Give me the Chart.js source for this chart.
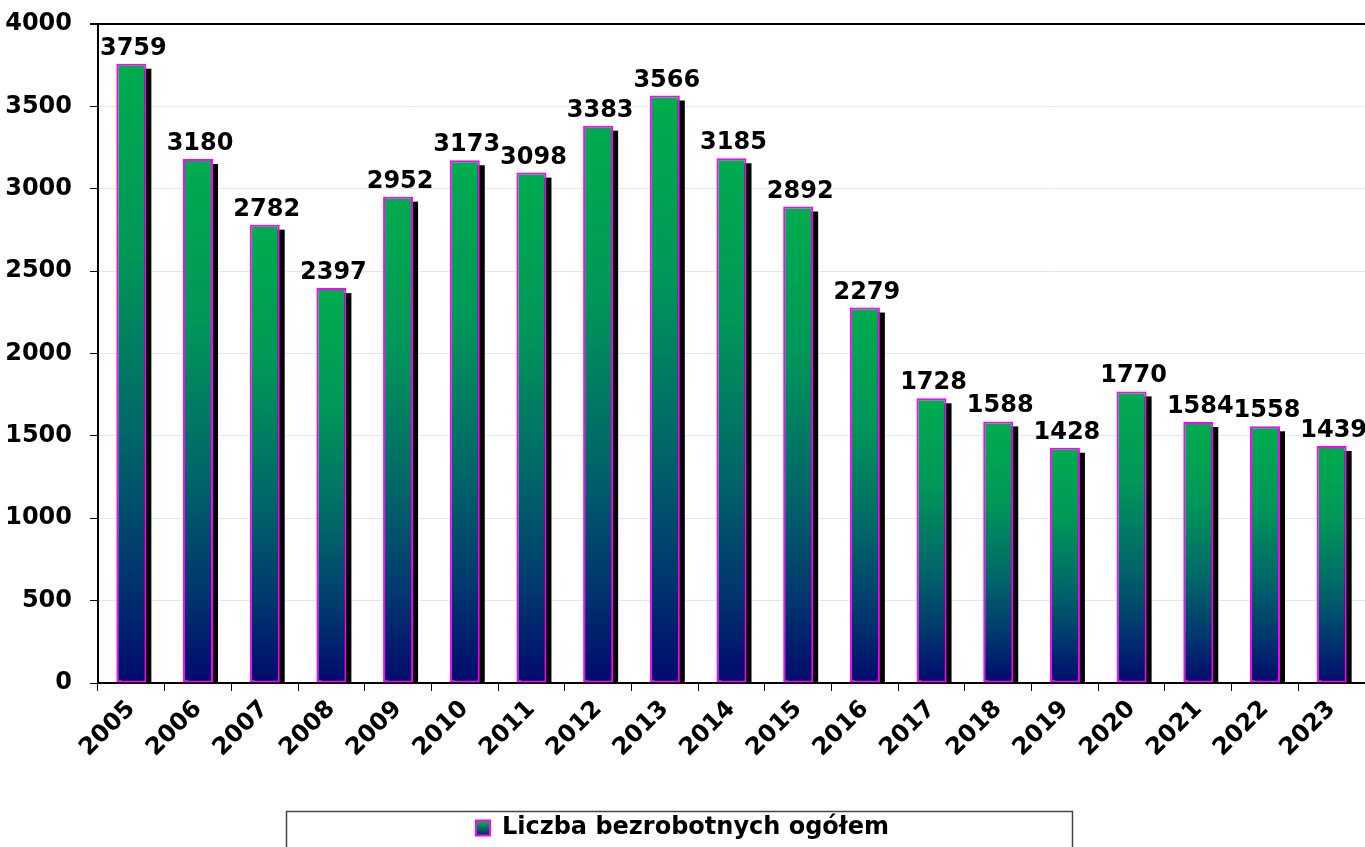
<!DOCTYPE html>
<html>
<head>
<meta charset="utf-8">
<script src="https://cdn.jsdelivr.net/npm/chart.js@4/dist/chart.umd.min.js"></script>
<style>
html,body{margin:0;padding:0;background:#fff;}
#wrap{width:1365px;height:847px;position:relative;}
</style>
</head>
<body>
<div id="wrap"><canvas id="c" width="1365" height="847"></canvas></div>
<script>
const years = ['2005','2006','2007','2008','2009','2010','2011','2012','2013','2014','2015','2016','2017','2018','2019','2020','2021','2022','2023'];
const unemployed = [3759,3180,2782,2397,2952,3173,3098,3383,3566,3185,2892,2279,1728,1588,1428,1770,1584,1558,1439];
const seriesName = 'Liczba bezrobotnych ogółem';
const yTicks = [0,500,1000,1500,2000,2500,3000,3500,4000];

const FONT = "'DejaVu Sans', Arial, sans-serif";

function barGradient(ctx, top, bottom) {
  const g = ctx.createLinearGradient(0, top, 0, bottom);
  g.addColorStop(0, '#00AC4E');
  g.addColorStop(0.3, '#009858');
  g.addColorStop(0.6, '#006668');
  g.addColorStop(0.82, '#00376E');
  g.addColorStop(1, '#000A6C');
  return g;
}

const shadowPlugin = {
  id: 'barShadow',
  beforeDatasetsDraw(chart) {
    const ctx = chart.ctx;
    const meta = chart.getDatasetMeta(0);
    ctx.save();
    ctx.fillStyle = '#000';
    meta.data.forEach(b => {
      const w = b.width;
      ctx.fillRect(b.x - w/2 + 5, b.y + 5, w, b.base - b.y - 5);
    });
    ctx.restore();
  }
};

const labelPlugin = {
  id: 'valueLabels',
  afterDatasetsDraw(chart) {
    const ctx = chart.ctx;
    const meta = chart.getDatasetMeta(0);
    const data = chart.data.datasets[0].data;
    ctx.save();
    ctx.font = 'bold 24px ' + FONT;
    ctx.fillStyle = '#000';
    ctx.textAlign = 'center';
    ctx.textBaseline = 'alphabetic';
    meta.data.forEach((b, i) => {
      ctx.fillText(String(data[i]), b.x + 2, b.y - 9);
    });
    ctx.restore();
  }
};

const legendBoxPlugin = {
  id: 'legendBox',
  afterDraw(chart) {
    const ctx = chart.ctx;
    const lg = chart.legend;
    if (!lg) return;
    ctx.save();
    ctx.strokeStyle = '#444';
    ctx.lineWidth = 1.5;
    ctx.strokeRect(286.5, lg.top + 0.5, 786, 60);
    ctx.restore();
  }
};

new Chart(document.getElementById('c'), {
  type: 'bar',
  data: {
    labels: years,
    datasets: [{
      label: seriesName,
      data: unemployed,
      backgroundColor: (c) => {
        const chart = c.chart;
        const ys = chart.scales.y;
        if (!ys || c.dataIndex === undefined) return '#00AC4E';
        const v = c.raw !== undefined ? c.raw : 0;
        const top = ys.getPixelForValue(v);
        const bottom = ys.getPixelForValue(0);
        if (!isFinite(top) || !isFinite(bottom) || top === bottom) return '#00AC4E';
        return barGradient(chart.ctx, top, bottom);
      },
      borderColor: '#FF00FF',
      borderWidth: 2,
      borderSkipped: false,
      barPercentage: 0.5,
      categoryPercentage: 0.9
    }]
  },
  options: {
    responsive: false,
    animation: false,
    devicePixelRatio: 1,
    layout: { padding: { top: 24, right: 0, left: 0, bottom: -3 } },
    scales: {
      x: {
        grid: {
          display: true,
          drawOnChartArea: false,
          drawTicks: true,
          tickLength: 8,
          tickColor: '#000',
          offset: true
        },
        border: { display: true, color: '#000', width: 2 },
        ticks: {
          color: '#000',
          font: { family: FONT, size: 24, weight: 'bold' },
          minRotation: 45,
          maxRotation: 45,
          autoSkip: false,
          padding: 4
        },
        afterFit(scale) {
          scale.height = 128;
          scale.paddingLeft = 0;
          scale.paddingRight = 0;
        }
      },
      y: {
        min: 0,
        max: 4000,
        afterBuildTicks(scale) { scale.ticks = yTicks.map(v => ({ value: v })); },
        grid: {
          color: (c) => (c.tick && c.tick.value === 4000) ? '#000' : '#E3E6F4',
          lineWidth: (c) => (c.tick && c.tick.value === 4000) ? 2 : 1,
          tickColor: '#000',
          tickLength: 8,
          drawTicks: true
        },
        border: { display: true, color: '#000', width: 2 },
        ticks: {
          color: '#000',
          font: { family: FONT, size: 24, weight: 'bold' },
          padding: 18,
          callback: (v) => String(v)
        },
        afterFit(scale) {
          scale.width = 98;
          scale.paddingTop = 0;
          scale.paddingBottom = 0;
        }
      }
    },
    plugins: {
      legend: {
        position: 'bottom',
        labels: {
          color: '#000',
          font: { family: FONT, size: 24, weight: 'bold' },
          boxWidth: 14,
          boxHeight: 15,
          padding: 5,
          generateLabels(chart) {
            const ctx = chart.ctx;
            const g = ctx.createLinearGradient(0, 822, 0, 838);
            g.addColorStop(0, '#00AC4E');
            g.addColorStop(1, '#000A6C');
            return [{
              text: seriesName,
              fillStyle: g,
              strokeStyle: '#FF00FF',
              lineWidth: 2,
              hidden: false,
              datasetIndex: 0,
              fontColor: '#000'
            }];
          }
        }
      },
      tooltip: { enabled: false }
    }
  },
  plugins: [shadowPlugin, labelPlugin, legendBoxPlugin]
});
</script>
</body>
</html>
